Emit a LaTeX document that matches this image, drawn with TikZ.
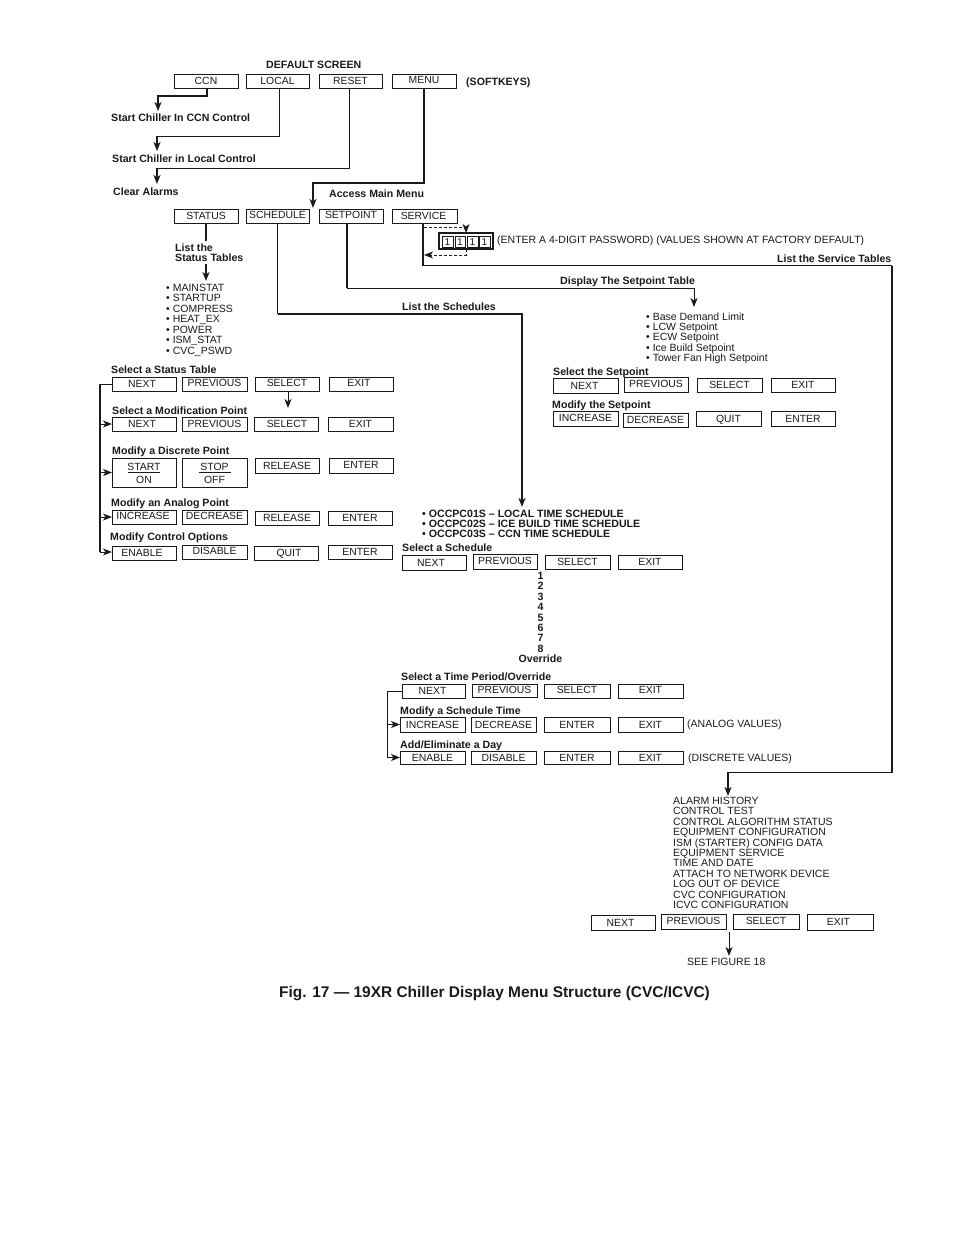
\documentclass[tikz,border=0pt]{standalone}
\usepackage{fontspec}
\setmainfont{Liberation Sans}
\usetikzlibrary{arrows.meta}
\definecolor{ink}{HTML}{1A1A1A}
\tikzset{
 bx/.style={draw=ink,line width=0.9pt,inner sep=0pt,outer sep=0pt,text=ink,font=\fontsize{10.4}{11}\selectfont},
 tn/.style={anchor=base west,inner sep=0pt,text=ink,font=\fontsize{10.5}{10.4}\selectfont},
 tb/.style={anchor=base west,inner sep=0pt,text=ink,font=\fontsize{10.6}{10.4}\selectfont\bfseries},
 lst/.style={anchor=north west,inner sep=0pt,align=left,text=ink,font=\fontsize{10.5}{10.4}\selectfont},
 wire/.style={draw=ink,line width=1pt},
 heavy/.style={draw=ink,line width=1.6pt},
 tip/.style={-{Stealth[length=9pt,width=7pt,inset=2.5pt]}}
}
\newcommand\bx[7][0]{\node[bx,minimum width={(#5-#3)*1pt},minimum height={(#6-#4)*1pt}] (#2) at ({(#3+#5)/2},{(#4+#6)/2}) {\raisebox{\dimexpr#1pt*9/10-3.7pt\relax}[0pt][0pt]{#7}};}
\newcommand\tl[1]{\hspace*{-#1pt}}
\begin{document}
\begin{tikzpicture}[x=1pt,y=-1pt]
\useasboundingbox[fill=white] (0,0) rectangle (954,1235);

% softkeys
\bx{ccn}{174}{74}{238}{88}{CCN}
\bx{local}{246}{74}{309}{88}{LOCAL}
\bx{reset}{319}{74}{382}{88}{RESET}
\bx[1]{menu}{392}{74}{456}{88}{MENU}
\node[tb] (tdef) at (266,68) {DEFAULT SCREEN};
\node[tb] (tsoft) at (466,85) {(SOFTKEYS)};
\node[tb] (t1) at (111,121) {Start Chiller In CCN Control};
\node[tb] (t2) at (112,162) {Start Chiller in Local Control};
\node[tb] (t3) at (113,195) {Clear Alarms};
\node[tb] (t4) at (329,197) {Access Main Menu};

% main menu
\bx{status}{174}{209}{238}{223}{STATUS}
\bx[1]{sched}{246}{209}{309}{223}{SCHEDULE}
\bx[1]{setp}{319}{209}{383}{223}{SETPOINT}
\bx{serv}{392}{209}{457}{223}{\tl{2}SERVICE}

\coordinate (e1) at (158,111);
\coordinate (e2) at (157,151);
\coordinate (e3) at (157,184);
\coordinate (e4) at (313,208);
\draw[wire,tip,line width=1.3pt] (ccn.south) ++(1,0) -- ++(0,8) -| (e1);
\draw[wire] (local.south) ++(1.5,0) -- ++(0,48) -- (157,136);
\draw[heavy,tip] (157,136) -- (e2);
\draw[wire] (reset.south) ++(-1,0) -- ++(0,80) -- (157,168);
\draw[heavy,tip] (157,168) -- (e3);
\draw[heavy,tip] (menu.south) -- ++(0,95) -| (e4);

% status branch
\node[tb,anchor=north west,align=left] (tlist) at (175,243.5) {List the\\Status Tables};
\coordinate (e5) at (206,281);
\draw[heavy] (status.south) -- (206,241);
\draw[heavy,tip] (206,264) -- (e5);
\node[lst,font=\fontsize{10.5}{10.5}\selectfont] (slist) at (166,283.5) {• MAINSTAT\\• STARTUP\\• COMPRESS\\• HEAT\_EX\\• POWER\\• ISM\_STAT\\• CVC\_PSWD};

% schedule branch
\coordinate (cs) at (277.5,314);
\coordinate (e6) at (522,507);
\draw[wire] (sched.south) -- (cs);
\draw[heavy,tip] (cs) -| (e6);
\node[tb] (tsch) at (402,310) {List the Schedules};

% setpoint branch
\coordinate (e7) at (694,307);
\draw[wire,line width=1.5pt] (setp.south) ++(-4,0) -- (347,288);
\draw[wire,tip] (347,288) -| (e7);
\node[tb] (tdsp) at (560,284) {Display The Setpoint Table};
\node[lst,font=\fontsize{10.5}{10.3}\selectfont] (plist) at (646,312.5) {• Base Demand Limit\\• LCW Setpoint\\• ECW Setpoint\\• Ice Build Setpoint\\• Tower Fan High Setpoint};

% service branch
\coordinate (e8) at (728,796);
\coordinate (c2) at (892,265.5);
\coordinate (c3) at (892,772.5);
\draw[wire,line width=1.3pt] (serv.south) ++(-1.5,0) -- (423,265.5) -- (c2);
\draw[heavy] (c2) -- (c3) -- (804,772.5);
\draw[wire] (804,772.5) -- (728,772.5);
\draw[heavy,tip] (728,772) -- (e8);
\node[tb] (tsvc) at (777,262) {List the Service Tables};

% password
\node[draw=ink,line width=1.6pt,minimum width=54pt,minimum height=16pt,inner sep=0pt,outer sep=0pt] (pw) at (466,241) {};
\bx{d1}{442}{236}{453}{247}{\fontsize{10}{10}\selectfont 1}
\bx{d2}{455}{236}{465}{247}{\fontsize{10}{10}\selectfont 1}
\bx{d3}{467}{236}{478}{247}{\fontsize{10}{10}\selectfont 1}
\bx{d4}{479}{236}{490}{247}{\fontsize{10}{10}\selectfont 1}
\draw[ink,line width=1pt,dash pattern=on 3pt off 2pt,tip] (424,227) -- (466,227) -- (pw.north);
\draw[ink,line width=1pt,dash pattern=on 3pt off 2pt,tip] (pw.south) -- (466,255) -- (424,255);
\node[tn] (tpw) at (497,243) {(ENTER A 4-DIGIT PASSWORD) (VALUES SHOWN AT FACTORY DEFAULT)};

% status rows
\node[tb] (ta) at (111,373) {Select a Status Table};
\bx{a1}{112}{377}{176}{391}{\tl{4}NEXT}
\bx[1]{a2}{182}{377}{247}{391}{PREVIOUS}
\bx[1]{a3}{255}{377}{319}{391}{SELECT}
\bx[1]{a4}{329}{377}{393}{391}{\tl{4}EXIT}
\node[tb] (tb) at (112,414) {Select a Modification Point};
\bx{b1}{112}{417}{176}{431}{\tl{4}NEXT}
\bx{b2}{182}{417}{247}{431}{PREVIOUS}
\bx{b3}{254}{417}{318}{431}{\hspace*{2pt}SELECT}
\bx{b4}{328}{417}{393}{431}{EXIT}
\node[tb] (tc) at (112,454) {Modify a Discrete Point};
\node[bx,minimum width=64pt,minimum height=29pt,align=center] (c1b) at (144,472.5) {\rule{0pt}{9.5pt}START\\[2.5pt]ON};
\node[bx,minimum width=65pt,minimum height=29pt,align=center] (c2b) at (214.5,472.5) {\rule{0pt}{9.5pt}STOP\\[2.5pt]OFF};
\draw[ink,line width=0.8pt] (c1b.center) ++(-16,0) -- ++(32,0);
\draw[ink,line width=0.8pt] (c2b.center) ++(-16,0) -- ++(32,0);
\bx{c3b}{255}{458}{319}{473}{RELEASE}
\bx[1]{c4b}{329}{458}{393}{473}{ENTER}
\node[tb] (td) at (111,506) {Modify an Analog Point};
\bx[1]{d1b}{112}{510}{176}{524}{\tl{2}INCREASE}
\bx[1]{d2b}{182}{510}{247}{524}{DECREASE}
\bx{d3b}{255}{511}{319}{525}{RELEASE}
\bx{d4b}{328}{511}{392}{525}{ENTER}
\node[tb] (te) at (110,540) {Modify Control Options};
\bx{e1b}{112}{546}{176}{560}{\tl{4}ENABLE}
\bx[1]{e2b}{182}{545}{247}{559}{DISABLE}
\bx{e3b}{254}{546}{318}{560}{\hspace*{6pt}QUIT}
\bx{e4b}{328}{545}{392}{559}{ENTER}
\coordinate (sp0) at (100,384);
\coordinate (sp1) at (100,552);
\draw[wire] (a1.west) -- (sp0);
\draw[heavy] (sp0) -- (sp1);
\foreach \n/\yy in {b1/424,c1b/472.5,d1b/517,e1b/552}
  \draw[wire,tip] (100,\yy) -- (\n.west |- 100,\yy);
\draw[wire,tip] (288,392) -- (288,408);

% setpoint rows
\node[tb] (tf) at (553,375) {Select the Setpoint};
\bx{f1}{553}{378}{618}{393}{\tl{2}NEXT}
\bx[1]{f2}{624}{377}{688}{392}{PREVIOUS}
\bx{f3}{697}{378}{762}{392}{SELECT}
\bx{f4}{771}{378}{835}{392}{EXIT}
\node[tb] (tg) at (552,408) {Modify the Setpoint};
\bx[1]{g1}{553}{411}{618}{426}{INCREASE}
\bx{g2}{623}{413}{688}{427}{DECREASE}
\bx{g3}{696}{411}{761}{426}{QUIT}
\bx{g4}{771}{411}{835}{426}{ENTER}

% schedules
\node[tb,anchor=north west,align=left] (tocc) at (422,509.5) {• OCCPC01S – LOCAL TIME SCHEDULE\\• OCCPC02S –  ICE BUILD TIME SCHEDULE\\• OCCPC03S – CCN TIME SCHEDULE};
\node[tb] (th) at (402,551) {Select a Schedule};
\bx{h1}{402}{555}{466}{570}{\tl{6}NEXT}
\bx[1]{h2}{473}{554}{537}{569}{PREVIOUS}
\bx{h3}{545}{555}{610}{569}{SELECT}
\bx{h4}{618}{555}{682}{569}{EXIT}
\node[tb,anchor=north,align=center] (nums) at (540.5,572) {1\\2\\3\\4\\5\\6\\7\\8\\Override};

\node[tb] (ti) at (401,680) {Select a Time Period/Override};
\bx{i1}{402}{684}{465}{698}{\tl{2}NEXT}
\bx[1]{i2}{472}{684}{537}{697}{PREVIOUS}
\bx[1]{i3}{544}{684}{610}{698}{SELECT}
\bx[1]{i4}{618}{684}{683}{698}{EXIT}
\node[tb] (tj) at (400,714) {Modify a Schedule Time};
\bx{j1}{400}{717}{465}{732}{INCREASE}
\bx{j2}{471}{717}{536}{732}{DECREASE}
\bx{j3}{544}{717}{610}{732}{ENTER}
\bx{j4}{618}{717}{683}{732}{EXIT}
\node[tn] (tan) at (687,727) {(ANALOG VALUES)};
\node[tb] (tk) at (400,748) {Add/Eliminate a Day};
\bx{k1}{400}{751}{465}{764}{ENABLE}
\bx{k2}{471}{751}{536}{764}{DISABLE}
\bx{k3}{544}{751}{610}{764}{ENTER}
\bx{k4}{618}{751}{683}{764}{EXIT}
\node[tn] (tdi) at (688,761) {(DISCRETE VALUES)};
\coordinate (sq) at (387,691);
\draw[wire] (i1.west) -- (sq) -- (387,757.5);
\draw[wire,tip] (387,724.5) -- (j1.west);
\draw[wire,tip] (387,757.5) -- (k1.west);

% service list
\node[lst] (svc) at (673,797) {ALARM HISTORY\\CONTROL TEST\\CONTROL ALGORITHM STATUS\\EQUIPMENT CONFIGURATION\\ISM (STARTER) CONFIG DATA\\EQUIPMENT SERVICE\\TIME AND DATE\\ATTACH TO NETWORK DEVICE\\LOG OUT OF DEVICE\\CVC CONFIGURATION\\ICVC CONFIGURATION};
\bx{m1}{591}{915}{655}{930}{\tl{5}NEXT}
\bx[1]{m2}{661}{914}{726}{929}{PREVIOUS}
\bx[1]{m3}{733}{914}{799}{929}{SELECT}
\bx{m4}{807}{914}{873}{930}{\tl{3}EXIT}
\coordinate (e9) at (729,956);
\draw[wire,tip] (729,932) -- (e9);
\node[tn] (tsee) at (687,965) {SEE FIGURE 18};

\node[anchor=base west,inner sep=0pt,text=ink,font=\fontsize{15.45}{17}\selectfont\bfseries] (cap) at (279,997) {Fig. 17 — 19XR Chiller Display Menu Structure (CVC/ICVC)};
\end{tikzpicture}
\end{document}
